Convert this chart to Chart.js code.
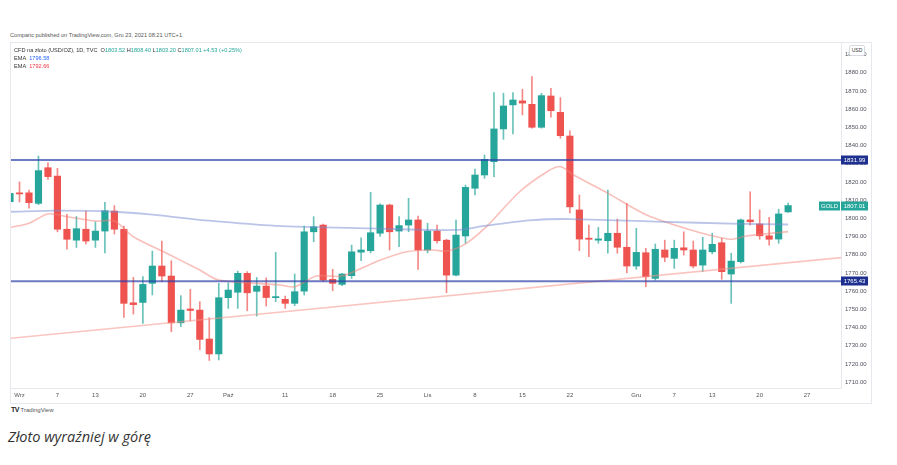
<!DOCTYPE html>
<html>
<head>
<meta charset="utf-8">
<script src="https://cdn.jsdelivr.net/npm/chart.js@4.4.0/dist/chart.umd.min.js"></script>
<style>
  body { margin: 0; width: 897px; height: 465px; background: #fff; position: relative; overflow: hidden; font-family: "Liberation Sans", Arial, sans-serif; }
  #hdr { position: absolute; left: 10px; top: 32px; font-size: 5.6px; color: #555; white-space: nowrap; }
  #panel { position: absolute; left: 10px; top: 42px; width: 860px; height: 360px; border: 1px solid #e6e8ee; }
  #wrap { position: absolute; left: 11px; top: 43px; width: 859px; height: 359px; }
  #legend { position: absolute; left: 14px; top: 46px; font-size: 5.6px; line-height: 8.2px; color: #333; white-space: nowrap; }
  #legend .up { color: #26a69a; }
  #legend .b { color: #2962ff; }
  #legend .r { color: #f23645; }
  #usd { position: absolute; left: 849px; top: 45px; width: 14px; height: 9px; border: 1px solid #d6d9e0; border-radius: 2px; background: #fff; font-size: 5px; line-height: 9px; text-align: center; color: #333; }
  #tv { position: absolute; left: 11px; top: 406px; font-size: 6px; color: #555; white-space: nowrap; }
  #tv b { font-size: 7px; color: #222; letter-spacing: -0.5px; }
  #caption { position: absolute; left: 8px; top: 427px; font-family: "Open Sans", sans-serif; font-style: italic; font-size: 14.5px; color: #333; }
</style>
</head>
<body>
<div id="hdr">Comparic published on TradingView.com, Gru 23, 2021 08:21 UTC+1</div>
<div id="panel"></div>
<div id="wrap"><canvas id="chart"></canvas></div>
<div id="legend">
  CFD na złoto (USD/OZ), 1D, TVC&nbsp; O<span class="up">1803.52</span> H<span class="up">1808.40</span> L<span class="up">1803.20</span> C<span class="up">1807.01</span> <span class="up">+4.53 (+0.25%)</span><br>
  EMA&nbsp; <span class="b">1796.58</span><br>
  EMA&nbsp; <span class="r">1792.66</span>
</div>
<div id="usd">USD</div>
<div id="tv"><b>TV</b> TradingView</div>
<div id="caption">Złoto wyraźniej w górę</div>

<script>
// daily candles, Aug 31 .. Dec 23 2021 (index = trading day)
const opens = [1809.1, 1814.0, 1814.0, 1808.2, 1827.8, 1823.2, 1794.0, 1788.0, 1794.0, 1788.0,
  1793.0, 1804.0, 1794.0, 1753.6, 1753.8, 1764.3, 1773.8, 1768.3, 1742.6, 1750.2,
  1749.6, 1733.7, 1725.5, 1756.4, 1759.4, 1769.8, 1759.9, 1762.8, 1756.4, 1755.5,
  1753.3, 1760.0, 1792.6, 1796.3, 1766.5, 1763.7, 1768.5, 1781.4, 1782.2, 1791.8,
  1807.3, 1793.0, 1796.3, 1799.1, 1782.6, 1793.0, 1788.0, 1768.8, 1790.3, 1816.5,
  1823.8, 1831.1, 1849.1, 1862.3, 1864.5, 1862.6, 1850.0, 1867.2, 1858.2, 1845.2,
  1804.6, 1789.1, 1788.0, 1787.7, 1791.8, 1784.1, 1773.8, 1781.1, 1767.0, 1782.6,
  1778.0, 1783.8, 1782.6, 1774.3, 1781.6, 1786.6, 1769.4, 1776.2, 1799.1, 1796.9,
  1790.4, 1788.6, 1803.52];
const highs = [1815.5, 1820.0, 1815.5, 1834.2, 1830.5, 1827.5, 1802.2, 1801.0, 1804.0, 1798.0,
  1808.8, 1807.0, 1795.8, 1767.6, 1768.0, 1782.0, 1787.5, 1776.7, 1757.5, 1761.0,
  1754.2, 1745.4, 1764.3, 1764.6, 1771.0, 1770.7, 1767.5, 1767.3, 1781.3, 1757.3,
  1769.4, 1795.8, 1800.9, 1796.8, 1772.0, 1769.8, 1785.3, 1789.3, 1814.3, 1808.0,
  1807.8, 1800.9, 1811.0, 1801.3, 1797.3, 1796.3, 1788.5, 1799.1, 1818.3, 1827.0,
  1834.8, 1869.0, 1868.7, 1869.0, 1870.9, 1877.8, 1868.7, 1871.4, 1866.3, 1848.0,
  1812.8, 1796.3, 1795.0, 1815.5, 1799.6, 1808.2, 1794.5, 1783.5, 1785.9, 1788.0,
  1788.0, 1792.6, 1787.5, 1789.6, 1791.8, 1789.0, 1780.8, 1799.6, 1814.6, 1804.6,
  1800.5, 1805.0, 1808.40];
const lows = [1806.0, 1809.0, 1805.6, 1807.5, 1821.4, 1792.6, 1783.0, 1784.0, 1786.0, 1784.0,
  1781.0, 1791.4, 1745.6, 1747.4, 1742.3, 1757.9, 1765.2, 1737.7, 1740.5, 1743.7,
  1727.8, 1721.9, 1722.2, 1750.5, 1750.5, 1749.2, 1746.3, 1751.8, 1754.2, 1750.5,
  1752.0, 1757.9, 1787.1, 1765.2, 1760.2, 1763.0, 1767.0, 1776.7, 1781.0, 1790.0,
  1782.6, 1784.4, 1792.6, 1772.0, 1781.0, 1786.3, 1759.1, 1768.3, 1786.3, 1812.8,
  1822.0, 1822.9, 1843.4, 1846.3, 1856.8, 1849.5, 1849.5, 1855.5, 1844.0, 1803.0,
  1782.2, 1778.9, 1786.3, 1780.8, 1780.8, 1770.1, 1772.0, 1762.4, 1766.0, 1776.2,
  1772.5, 1779.8, 1772.8, 1770.7, 1780.5, 1766.5, 1753.3, 1775.5, 1796.3, 1788.5,
  1785.3, 1786.3, 1803.20];
const closes = [1813.7, 1813.4, 1808.6, 1826.2, 1822.9, 1794.0, 1788.5, 1794.3, 1787.5, 1793.0,
  1804.2, 1794.0, 1753.3, 1752.6, 1763.7, 1773.8, 1768.3, 1742.6, 1749.6, 1749.4,
  1733.5, 1725.5, 1756.4, 1760.6, 1769.8, 1759.1, 1762.8, 1756.5, 1757.0, 1753.3,
  1759.7, 1792.6, 1795.4, 1766.1, 1764.3, 1769.4, 1781.6, 1782.6, 1792.1, 1807.3,
  1792.6, 1796.0, 1799.1, 1782.6, 1793.0, 1787.7, 1768.8, 1790.8, 1817.0, 1823.8,
  1832.4, 1849.1, 1861.7, 1865.0, 1863.3, 1850.0, 1867.4, 1859.1, 1845.4, 1806.3,
  1788.6, 1788.5, 1788.7, 1791.8, 1784.1, 1773.8, 1781.3, 1767.9, 1783.0, 1778.6,
  1783.5, 1782.6, 1773.8, 1782.6, 1785.7, 1770.7, 1776.5, 1799.1, 1798.1, 1790.4,
  1788.5, 1802.4, 1807.01];

// EMA lines: [day index, value]
const emaSlow = [[0, 1803.6], [5, 1804.2], [11, 1803.6], [15, 1802.0], [21, 1798.7], [28, 1795.9],
  [38, 1794.5], [47, 1793.6], [50, 1795.8], [55, 1799.0], [59, 1799.6], [68, 1798.2], [77, 1797.0], [82, 1796.6]];
const emaFast = [[0, 1795.0], [2, 1797.3], [4, 1802.4], [6, 1800.9], [9, 1798.5], [11, 1798.5], [13, 1789.9],
  [16.5, 1780.8], [20, 1771.6], [22, 1766.1], [28.5, 1763.4], [30, 1762.4], [32.3, 1768.3], [35, 1768.3],
  [38.6, 1776.2], [41.8, 1781.6], [44.6, 1782.6], [46, 1782.0], [48, 1786.0], [50.2, 1795.4], [53.7, 1814.6],
  [56.6, 1825.6], [58, 1828.4], [59.4, 1823.8], [62.9, 1814.1], [67.1, 1801.8], [72, 1793.2], [75.9, 1788.5],
  [77.6, 1790.3], [82, 1792.7]];
const trendLine = [[0, 1734.1], [87.6, 1778.4]];
const levels = [1831.99, 1765.43];

const xTicks = [1, 5, 9, 14, 19, 23, 29, 34, 39, 44, 49, 54, 59, 66, 70, 74, 79, 84];
const xLabels = ['Wrz', '7', '13', '20', '27', 'Paź', '11', '18', '25', 'Lis', '8', '15', '22', 'Gru', '7', '13', '20', '27'];
const yTicks = [1710, 1720, 1730, 1740, 1750, 1760, 1770, 1780, 1790, 1800, 1810, 1820, 1830, 1840, 1850, 1860, 1870, 1880, 1890];

const UP = '#26a69a';
const DOWN = '#ef5350';
const candleColors = closes.map((c, i) => c >= opens[i] ? UP : DOWN);

const toPts = arr => arr.map(p => ({ x: p[0], y: p[1] }));

const priceTags = {
  id: 'priceTags',
  afterDraw(chart) {
    const ctx = chart.ctx;
    const y = chart.scales.y;
    const area = chart.chartArea;
    const tag = (val, txt, bg, left, w) => {
      const py = Math.round(y.getPixelForValue(val));
      ctx.fillStyle = bg;
      ctx.fillRect(left, py - 4.5, w, 9);
      ctx.fillStyle = '#fff';
      ctx.font = '6px "Liberation Sans", Arial, sans-serif';
      ctx.textAlign = 'center';
      ctx.textBaseline = 'middle';
      ctx.fillText(txt, left + w / 2, py + 0.5);
    };
    ctx.save();
    levels.forEach(v => tag(v, v.toFixed(2), '#1d2f8f', area.right, 27));
    const last = closes[closes.length - 1];
    tag(last, last.toFixed(2), UP, area.right, 27);
    tag(last, 'GOLD', UP, area.right - 22, 21);
    ctx.restore();
  }
};

new Chart(document.getElementById('chart'), {
  type: 'bar',
  data: {
    datasets: [
      {
        label: 'wicks',
        data: lows.map((l, i) => ({ x: i, y: [l, highs[i]] })),
        backgroundColor: candleColors.map(c => c + 'b0'),
        barThickness: 1,
        grouped: false,
        order: 3
      },
      {
        label: 'bodies',
        data: opens.map((o, i) => ({ x: i, y: [o, closes[i]] })),
        backgroundColor: candleColors,
        barThickness: 6.5,
        minBarLength: 1,
        grouped: false,
        order: 2
      },
      {
        type: 'line', label: 'trend', data: toPts(trendLine),
        borderColor: 'rgba(246,150,140,0.55)', borderWidth: 1.6, pointRadius: 0, order: 1
      },
      {
        type: 'line', label: 'EMA slow', data: toPts(emaSlow),
        borderColor: 'rgba(120,140,210,0.5)', borderWidth: 1.8, pointRadius: 0, tension: 0.3, order: 1
      },
      {
        type: 'line', label: 'EMA fast', data: toPts(emaFast),
        borderColor: 'rgba(244,130,120,0.5)', borderWidth: 1.6, pointRadius: 0, tension: 0.3, order: 1
      },
      ...levels.map(v => ({
        type: 'line', label: 'level', data: [{ x: 0, y: v }, { x: 87.6, y: v }],
        borderColor: 'rgba(45,65,170,0.7)', borderWidth: 2, pointRadius: 0, order: 0
      }))
    ]
  },
  options: {
    responsive: true,
    maintainAspectRatio: false,
    animation: false,
    layout: { padding: 0 },
    plugins: { legend: { display: false }, tooltip: { enabled: false } },
    scales: {
      x: {
        type: 'linear',
        min: 0.105,
        max: 87.57,
        offset: false,
        grid: { display: false, offset: false, drawTicks: false, tickLength: 0 },
        border: { display: true, color: '#e6e8ee' },
        afterBuildTicks: s => { s.ticks = xTicks.map(v => ({ value: v })); },
        afterFit: s => { s.height = 14; s.paddingLeft = 0; s.paddingRight = 0; },
        ticks: {
          autoSkip: false,
          maxRotation: 0,
          padding: 4,
          color: '#555',
          font: { size: 6, family: '"Liberation Sans", Arial, sans-serif' },
          callback: v => xLabels[xTicks.indexOf(v)]
        }
      },
      y: {
        position: 'right',
        min: 1706.8,
        max: 1896.3,
        grid: { display: false, drawTicks: false, tickLength: 0 },
        border: { display: true, color: '#e6e8ee' },
        afterBuildTicks: s => { s.ticks = yTicks.map(v => ({ value: v })); },
        afterFit: s => { s.width = 29; s.paddingTop = 0; s.paddingBottom = 0; },
        ticks: {
          padding: 4,
          color: '#50535e',
          font: { size: 6, family: '"Liberation Sans", Arial, sans-serif' },
          callback: v => v.toFixed(2)
        }
      }
    }
  },
  plugins: [priceTags]
});
</script>
</body>
</html>
